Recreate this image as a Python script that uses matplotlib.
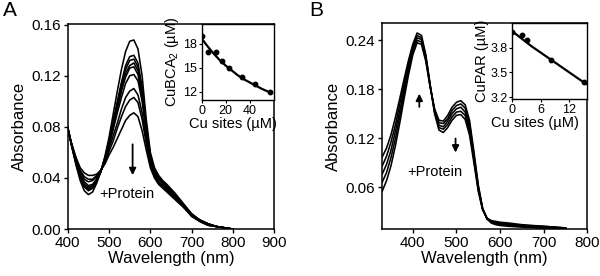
import matplotlib
matplotlib.use("Agg")
import matplotlib.pyplot as plt

plt.rcParams['font.family'] = ['Liberation Sans', 'DejaVu Sans']
plt.rcParams['mathtext.fontset'] = 'custom'
plt.rcParams['mathtext.rm'] = 'Liberation Sans'
plt.rcParams['mathtext.it'] = 'Liberation Sans'

# ---------------- Panel A data ----------------
wl_a = [400, 410, 420, 430, 440, 450, 460, 470, 480, 490, 500, 510, 520, 530, 540,
        550, 560, 570, 580, 590, 600, 610, 620, 630, 640, 660, 680, 700, 720, 740,
        760, 780, 800]
abs_a1 = [.080, .064, .050, .038, .030, .027, .029, .036, .045, .057, .072, .090, .108, .125, .139,
          .147, .148, .141, .120, .086, .060, .048, .042, .038, .035, .028, .020, .012, .007, .004,
          .002, .001, .000]
abs_a2 = [.079, .064, .051, .040, .033, .030, .032, .037, .045, .056, .069, .085, .100, .115, .128,
          .135, .136, .130, .111, .081, .058, .046, .041, .037, .034, .027, .019, .012, .007, .004,
          .002, .001, .000]
abs_a3 = [.079, .065, .052, .041, .034, .031, .032, .038, .045, .055, .068, .083, .098, .113, .125,
          .132, .133, .127, .109, .080, .057, .046, .040, .036, .033, .027, .019, .011, .007, .004,
          .002, .001, .000]
abs_a4 = [.079, .065, .052, .041, .034, .032, .033, .038, .045, .055, .068, .082, .096, .110, .122,
          .128, .130, .124, .106, .078, .056, .045, .040, .036, .033, .026, .019, .011, .007, .004,
          .002, .001, .000]
abs_a5 = [.079, .065, .052, .042, .035, .033, .034, .039, .045, .055, .067, .080, .094, .108, .119,
          .126, .127, .121, .104, .077, .056, .045, .039, .036, .033, .026, .019, .011, .007, .004,
          .002, .001, .000]
abs_a6 = [.079, .065, .053, .043, .037, .034, .035, .039, .045, .054, .065, .078, .091, .103, .114,
          .120, .121, .116, .100, .075, .054, .044, .039, .035, .032, .026, .019, .011, .007, .004,
          .002, .001, .000]
abs_a7 = [.078, .065, .054, .045, .039, .037, .038, .041, .046, .053, .063, .073, .083, .094, .103,
          .108, .110, .105, .091, .070, .052, .043, .037, .034, .031, .025, .018, .011, .006, .003,
          .002, .001, .000]
abs_a8 = [.078, .066, .055, .046, .041, .039, .039, .042, .046, .052, .061, .069, .079, .088, .096,
          .101, .103, .099, .086, .067, .051, .042, .036, .033, .030, .024, .018, .010, .006, .003,
          .002, .001, .000]
abs_a9 = [.077, .066, .056, .048, .044, .042, .042, .043, .046, .051, .058, .064, .071, .078, .085,
          .089, .091, .088, .077, .062, .048, .040, .035, .032, .029, .023, .017, .010, .006, .003,
          .002, .001, .000]
spectra_a = [abs_a1, abs_a2, abs_a3, abs_a4, abs_a5, abs_a6, abs_a7, abs_a8, abs_a9]

inset_a_x = [0, 5.5, 11.6, 17.1, 23.2, 34.0, 44.1, 57.4]
inset_a_y = [19.0, 17.0, 17.0, 15.9, 15.0, 13.9, 13.0, 12.0]
fit_a_x = [0, 5, 10, 15, 20, 25, 30, 35, 40, 45, 50, 57.5]
fit_a_y = [18.7, 17.7, 16.8, 16.0, 15.3, 14.7, 14.1, 13.6, 13.2, 12.8, 12.4, 11.9]

# ---------------- Panel B data ----------------
wl_b = [330, 340, 350, 360, 370, 380, 390, 400, 410, 420, 430, 440, 450, 460, 470,
        480, 490, 500, 510, 520, 530, 540, 550, 560, 570, 580, 590, 600, 620, 650,
        700, 750]
abs_b1 = [.097, .108, .124, .145, .168, .192, .215, .235, .249, .246, .222, .185, .150, .130, .127,
          .133, .142, .148, .149, .143, .124, .090, .055, .032, .022, .019, .018, .017, .016, .014,
          .012, .010]
abs_b2 = [.086, .098, .115, .136, .161, .186, .211, .232, .246, .243, .220, .184, .152, .133, .131,
          .137, .146, .152, .153, .148, .129, .094, .057, .033, .022, .018, .017, .016, .015, .013,
          .012, .010]
abs_b3 = [.076, .088, .105, .128, .153, .180, .206, .229, .243, .241, .218, .184, .153, .136, .134,
          .141, .150, .156, .158, .152, .133, .097, .059, .033, .022, .018, .016, .015, .014, .013,
          .011, .010]
abs_b4 = [.066, .078, .096, .119, .146, .174, .202, .225, .240, .238, .216, .183, .155, .139, .138,
          .144, .154, .160, .162, .157, .138, .100, .061, .034, .021, .017, .015, .014, .013, .012,
          .010, .009]
abs_b5 = [.055, .068, .086, .110, .138, .168, .197, .222, .237, .235, .214, .182, .156, .142, .141,
          .148, .158, .164, .166, .161, .142, .104, .063, .034, .021, .016, .014, .013, .012, .011,
          .010, .009]
spectra_b = [abs_b1, abs_b2, abs_b3, abs_b4, abs_b5]

inset_b_x = [0, 2.0, 3.0, 8.2, 15.0]
inset_b_y = [3.99, 3.95, 3.90, 3.65, 3.38]
fit_b_x = [0, 2, 4, 6, 8, 10, 12, 14, 15.5]
fit_b_y = [4.00, 3.91, 3.82, 3.74, 3.66, 3.58, 3.50, 3.42, 3.36]

xticks_a = [400, 500, 600, 700, 800, 900]
yticks_a = [0.00, 0.04, 0.08, 0.12, 0.16]
xticks_b = [400, 500, 600, 700, 800]
yticks_b = [0.06, 0.12, 0.18, 0.24]

# ---------------- Figure ----------------
fig = plt.figure(figsize=(6.0, 2.76), dpi=100)

def style_main(ax):
    for s in ax.spines.values():
        s.set_linewidth(1.1)
    ax.tick_params(direction='out', length=3, width=1.0, labelsize=11, pad=2)

def style_inset(ax):
    for s in ax.spines.values():
        s.set_linewidth(1.0)
    ax.tick_params(direction='out', length=2, width=0.8, labelsize=9, pad=1.5)

# Panel A main
axA = fig.add_axes([0.113, 0.170, 0.344, 0.743])
for sp in spectra_a:
    axA.plot(wl_a, sp, color='black', lw=1.15)
axA.set_xlim(400, 900)
axA.set_ylim(0, 0.1605)
axA.set_xticks(xticks_a)
axA.set_yticks(yticks_a)
axA.set_yticklabels([f"{v:.2f}" for v in yticks_a])
axA.set_xlabel("Wavelength (nm)", fontsize=12, labelpad=1)
axA.set_ylabel("Absorbance", fontsize=12, labelpad=3)
style_main(axA)
axA.annotate("", xy=(557, 0.040), xytext=(557, 0.0685),
             arrowprops=dict(arrowstyle='-|>', color='black', lw=1.3, mutation_scale=10))
axA.text(542, 0.0272, "+Protein", ha='center', va='center', fontsize=10.5)

# Panel A inset
insA = fig.add_axes([0.336, 0.638, 0.121, 0.275])
insA.plot(fit_a_x, fit_a_y, color='black', lw=1.6)
insA.plot(inset_a_x, inset_a_y, 'o', color='black', ms=3.2)
insA.set_xlim(0, 60.5)
insA.set_ylim(11.0, 20.5)
insA.set_xticks([0, 20, 40])
insA.set_yticks([12, 15, 18])
insA.set_xlabel("Cu sites (\u00b5M)", fontsize=10.5)
insA.xaxis.set_label_coords(0.43, -0.22)
insA.set_ylabel("CuBCA$_2$ (\u00b5M)", fontsize=10.5, labelpad=1)
style_inset(insA)

# Panel B main
axB = fig.add_axes([0.637, 0.170, 0.342, 0.746])
for sp in spectra_b:
    axB.plot(wl_b, sp, color='black', lw=1.15)
axB.set_xlim(330, 800)
axB.set_ylim(0.0086, 0.261)
axB.set_xticks(xticks_b)
axB.set_yticks(yticks_b)
axB.set_yticklabels([f"{v:.2f}" for v in yticks_b])
axB.set_xlabel("Wavelength (nm)", fontsize=12, labelpad=1)
axB.set_ylabel("Absorbance", fontsize=12, labelpad=3)
style_main(axB)
axB.annotate("", xy=(415, 0.178), xytext=(415, 0.155),
             arrowprops=dict(arrowstyle='-|>', color='black', lw=1.3, mutation_scale=10))
axB.annotate("", xy=(498, 0.099), xytext=(498, 0.123),
             arrowprops=dict(arrowstyle='-|>', color='black', lw=1.3, mutation_scale=10))
axB.text(450, 0.078, "+Protein", ha='center', va='center', fontsize=10.5)

# Panel B inset
insB = fig.add_axes([0.854, 0.641, 0.125, 0.275])
insB.plot(fit_b_x, fit_b_y, color='black', lw=1.6)
insB.plot(inset_b_x, inset_b_y, 'o', color='black', ms=3.2)
insB.set_xlim(0, 15.8)
insB.set_ylim(3.175, 4.10)
insB.set_xticks([0, 6, 12])
insB.set_yticks([3.2, 3.5, 3.8])
insB.set_xlabel("Cu sites (\u00b5M)", fontsize=10.5)
insB.xaxis.set_label_coords(0.30, -0.22)
insB.set_ylabel("CuPAR (\u00b5M)", fontsize=10.5, labelpad=1)
style_inset(insB)

# Panel letters
fig.text(0.005, 0.962, "A", fontsize=15, ha='left', va='center')
fig.text(0.515, 0.962, "B", fontsize=15, ha='left', va='center')

fig.savefig("out.png", dpi=100)
